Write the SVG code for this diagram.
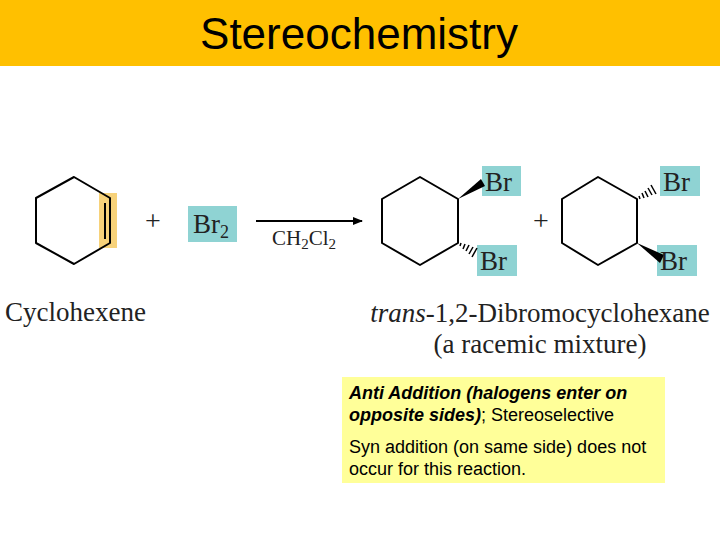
<svg xmlns="http://www.w3.org/2000/svg" width="720" height="540" viewBox="0 0 720 540">
<style>
.ring{fill:none;stroke:#000;stroke-width:2;stroke-linejoin:round}
.br{fill:#8fd3d3}
.chem{font-family:"Liberation Serif",serif;fill:#222}
.note{font-family:"Liberation Sans",sans-serif;font-size:18px;fill:#000}
</style>
<defs>
<marker id="ah" markerWidth="10" markerHeight="8" refX="9" refY="4" orient="auto" markerUnits="userSpaceOnUse"><path d="M0,0 L10,4 L0,8 z" fill="#000"/></marker>
</defs>
<rect width="720" height="540" fill="#fff"/>
<g id="title"><rect x="0" y="0" width="720" height="66" fill="#ffc000"/>
<text x="359" y="49" text-anchor="middle" font-family="Liberation Sans,sans-serif" font-size="44" fill="#000">Stereochemistry</text></g>
<g id="cyclohexene">
<rect x="99" y="193" width="18" height="55" fill="#f7d27a"/>
<polygon class="ring" points="74,177 110,198 110,243 74,264 36,243 36,198"/>
<line x1="105" y1="203" x2="105" y2="239" stroke="#000" stroke-width="2"/>
<text class="chem" x="5" y="321" font-size="27">Cyclohexene</text>
</g>
<g id="plus1"><text class="chem" x="153" y="230" font-size="28" text-anchor="middle" fill="#777">+</text></g>
<g id="br2"><rect class="br" x="188" y="206" width="49" height="36"/>
<text class="chem" x="193" y="233" font-size="27">Br<tspan font-size="18" dy="5">2</tspan></text></g>
<g id="connectors"><line x1="256" y1="221" x2="362" y2="221" stroke="#000" stroke-width="2" marker-end="url(#ah)"/></g>
<g id="solvent"><text class="chem" x="272" y="245" font-size="21">CH<tspan font-size="15" dy="4">2</tspan><tspan dy="-4">Cl</tspan><tspan font-size="15" dy="4">2</tspan></text></g>
<g id="product1">
<polygon class="ring" points="420,177 458,199 458,243 420,265 382,243 382,199"/>
<rect class="br" x="482" y="166" width="39" height="30"/>
<rect class="br" x="477" y="245" width="40" height="31"/>
<polygon points="458,199 481,179 485,186" fill="#000"/>
<g stroke="#000" stroke-width="1.5"><line x1="461" y1="243" x2="460" y2="246"/><line x1="465" y1="244" x2="463" y2="249"/><line x1="469" y1="245" x2="466" y2="251"/><line x1="473" y1="247" x2="469" y2="254"/><line x1="477" y1="248" x2="472" y2="257"/></g>
<text class="chem" x="485" y="191" font-size="27">Br</text>
<text class="chem" x="480" y="270" font-size="27">Br</text>
</g>
<g id="plus2"><text class="chem" x="541" y="230" font-size="28" text-anchor="middle" fill="#777">+</text></g>
<g id="product2">
<polygon class="ring" points="598,177 637,199 637,243 598,265 562,243 562,199"/>
<rect class="br" x="660" y="166" width="40" height="30"/>
<rect class="br" x="657" y="245" width="40" height="31"/>
<g stroke="#000" stroke-width="1.5"><line x1="640" y1="199" x2="639" y2="196"/><line x1="644" y1="198" x2="642" y2="193"/><line x1="648" y1="197" x2="645" y2="191"/><line x1="652" y1="195" x2="648" y2="188"/><line x1="656" y1="194" x2="651" y2="185"/></g>
<polygon points="637,243 664,255 660,263" fill="#000"/>
<text class="chem" x="663" y="191" font-size="27">Br</text>
<text class="chem" x="660" y="270" font-size="27">Br</text>
</g>
<g id="productlabel">
<text class="chem" x="540" y="322" font-size="27" text-anchor="middle"><tspan font-style="italic">trans</tspan>-1,2-Dibromocyclohexane</text>
<text class="chem" x="540" y="353" font-size="27" text-anchor="middle">(a racemic mixture)</text>
</g>
<g id="note">
<rect x="342" y="377" width="323" height="106" fill="#ffff99"/>
<text class="note" x="349" y="399"><tspan font-weight="bold" font-style="italic">Anti Addition (halogens enter on</tspan></text>
<text class="note" x="349" y="421"><tspan font-weight="bold" font-style="italic">opposite sides)</tspan>;  Stereoselective</text>
<text class="note" x="349" y="453">Syn addition (on same side) does not</text>
<text class="note" x="349" y="475">occur for this reaction.</text>
</g>
</svg>
